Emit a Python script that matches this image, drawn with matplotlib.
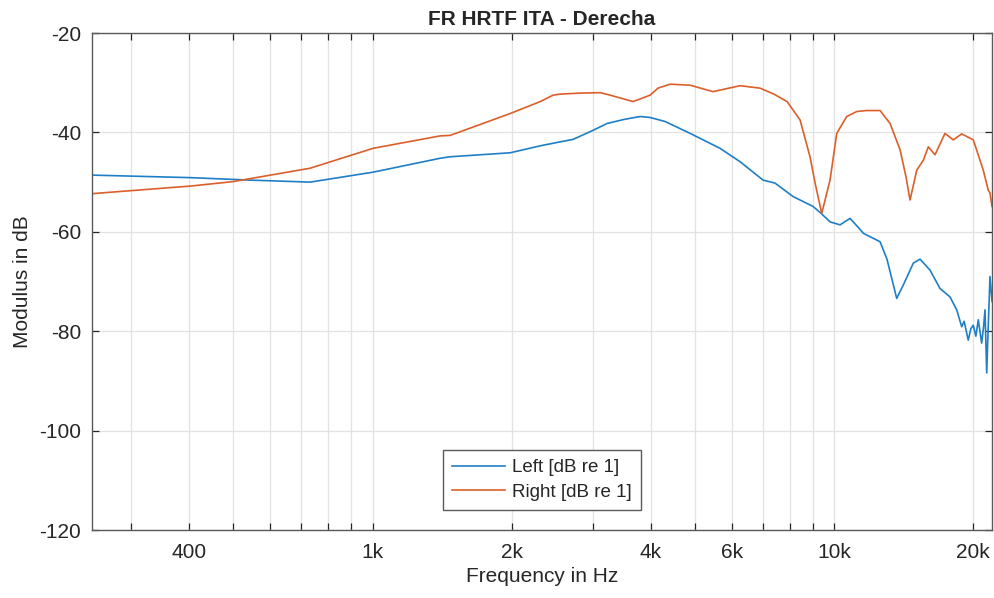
import matplotlib
matplotlib.use("Agg")
import matplotlib.pyplot as plt
from matplotlib.ticker import FixedLocator, NullFormatter

plt.rcParams['font.family'] = ['Liberation Sans', 'DejaVu Sans']
plt.rcParams['axes.unicode_minus'] = False

# Left ear response (frequency in Hz, magnitude in dB)
left_freq = [249, 403, 544, 733, 1003, 1401, 1473, 1987, 2307, 2549, 2719, 3000,
             3221, 3500, 3797, 3992, 4300, 4873, 5656, 6251, 7011, 7440, 8139,
             8995, 9391, 9788, 10288, 10815, 11366, 11556, 12562, 13000, 13648,
             14105, 14826, 15328, 16112, 16934, 17801, 18405, 18871, 19100,
             19499, 19750, 19993, 20250, 20497, 20845, 21050, 21195, 21376,
             21560, 21729, 21950]
left_db = [-48.6, -49.1, -49.6, -50.0, -48.0, -45.2, -44.9, -44.1, -42.7, -41.9,
           -41.4, -39.6, -38.2, -37.4, -36.8, -37.0, -37.8, -40.2, -43.2, -45.9,
           -49.6, -50.2, -52.9, -54.9, -56.4, -58.0, -58.6, -57.3, -59.5, -60.3,
           -62.0, -65.5, -73.4, -70.7, -66.3, -65.5, -67.7, -71.4, -73.1, -75.7,
           -79.1, -78.0, -81.8, -79.5, -78.8, -81.0, -77.7, -82.4, -79.0, -75.7,
           -88.4, -78.0, -69.0, -74.0]

# Right ear response
right_freq = [249, 403, 499, 733, 1003, 1401, 1473, 1987, 2307, 2461, 2549, 2800,
              3111, 3269, 3667, 3992, 4150, 4411, 4873, 5464, 6251, 6906, 7400,
              7902, 8430, 8858, 9100, 9391, 9788, 10121, 10637, 11181, 11752,
              12562, 13203, 13878, 14300, 14585, 15083, 15584, 15978, 16520,
              17361, 18094, 18871, 19993, 21014, 21541, 21729, 21950]
right_db = [-52.3, -50.8, -49.9, -47.2, -43.2, -40.7, -40.6, -36.2, -33.8, -32.5,
            -32.3, -32.1, -32.0, -32.5, -33.8, -32.5, -31.1, -30.3, -30.5, -31.8,
            -30.6, -31.1, -32.3, -33.8, -37.5, -44.9, -50.5, -56.3, -49.6, -40.2,
            -36.8, -35.8, -35.6, -35.6, -38.2, -43.5, -49.0, -53.6, -47.6, -45.6,
            -42.9, -44.5, -40.2, -41.5, -40.3, -41.5, -47.6, -51.6, -52.2, -54.9]

x_major = [400, 1000, 2000, 4000, 6000, 10000, 20000]
x_major_labels = ['400', '1k', '2k', '4k', '6k', '10k', '20k']
x_minor = [300, 500, 600, 700, 800, 900, 3000, 5000, 7000, 8000, 9000]
y_ticks = [-120, -100, -80, -60, -40, -20]

blue = '#1f7fc6'
orange = '#dc5f2a'
axis_col = '#262626'

fig = plt.figure(figsize=(9.95, 5.98), dpi=100)
ax = fig.add_axes([0.0925, 0.1137, 0.9045, 0.8311])

ax.plot(left_freq, left_db, color=blue, lw=1.2, label='Left [dB re 1]')
ax.plot(right_freq, right_db, color=orange, lw=1.2, label='Right [dB re 1]')

ax.set_xscale('log')
ax.set_xlim(247, 21950)
ax.set_ylim(-120, -20)

ax.xaxis.set_major_locator(FixedLocator(x_major))
ax.set_xticklabels(x_major_labels)
ax.xaxis.set_minor_locator(FixedLocator(x_minor))
ax.xaxis.set_minor_formatter(NullFormatter())
ax.set_yticks(y_ticks)

ax.grid(True, which='major', color='#e2e2e2', lw=0.9)
ax.grid(True, which='minor', axis='x', color='#e2e2e2', lw=0.9)
ax.set_axisbelow(True)

ax.tick_params(which='both', direction='in', top=True, right=True,
               colors=axis_col, labelcolor=axis_col, labelsize=15, width=0.9)
ax.tick_params(which='major', length=5)
ax.tick_params(which='minor', length=5)
ax.tick_params(axis='x', pad=9)
ax.tick_params(axis='y', pad=8)
for s in ax.spines.values():
    s.set_color('#5a5a5a')
    s.set_linewidth(1.0)

ax.set_xlabel('Frequency in Hz', fontsize=15, color=axis_col, labelpad=4)
ax.set_ylabel('Modulus in dB', fontsize=15, color=axis_col, labelpad=5)
ax.set_title('FR HRTF ITA - Derecha', fontsize=15, fontweight='bold',
             color=axis_col, pad=6)

leg = ax.legend(loc='lower center', bbox_to_anchor=(0.5, 0.04), fontsize=13.5,
                frameon=True, fancybox=False, framealpha=1, edgecolor='#5a5a5a',
                handlelength=2.8, handletextpad=0.4, borderpad=0.5,
                labelspacing=0.4, borderaxespad=0)
leg.get_frame().set_linewidth(1.0)
for t in leg.get_texts():
    t.set_color(axis_col)

fig.savefig('out.png', dpi=100)
